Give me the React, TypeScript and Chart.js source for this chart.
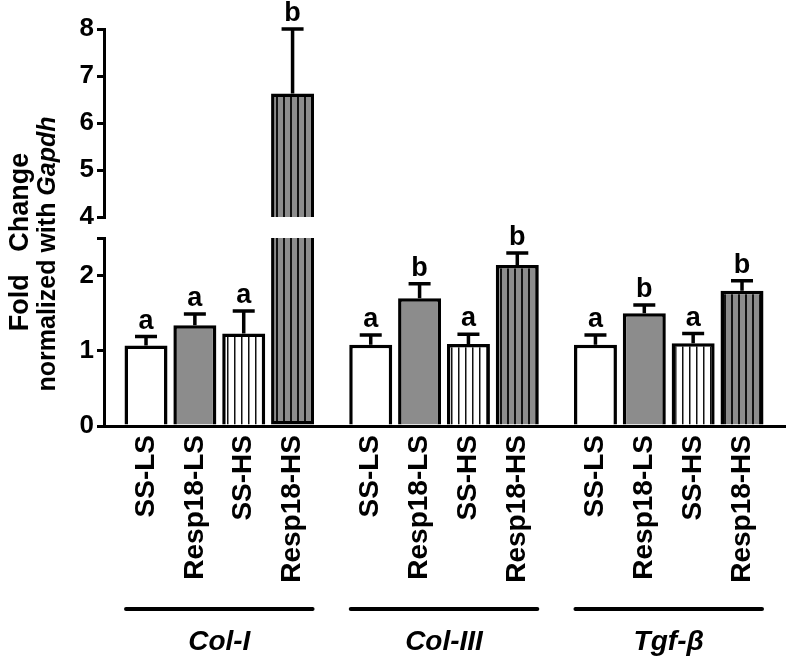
import React, { useEffect, useRef } from "react";
import { Chart, registerables } from "chart.js";
Chart.register(...registerables);

const FONT = '"Liberation Sans", Arial, Helvetica, sans-serif';

const groups = ["Col-I", "Col-III", "Tgf-β"];
const conditions = ["SS-LS", "Resp18-LS", "SS-HS", "Resp18-HS"];

const colIMeans = [1.07, 1.34, 1.23, 6.63];
const colIErr = [0.12, 0.15, 0.3, 1.37];
const colIIIMeans = [1.08, 1.7, 1.09, 2.14];
const colIIIErr = [0.13, 0.19, 0.13, 0.16];
const tgfMeans = [1.08, 1.5, 1.1, 1.8];
const tgfErr = [0.13, 0.11, 0.13, 0.13];

const colILetters = ["a", "a", "a", "b"];
const colIIILetters = ["a", "b", "a", "b"];
const tgfLetters = ["a", "b", "a", "b"];

const lowTicks = [0, 1, 2];
const lowRange = [0, 2.5];
const highTicks = [4, 5, 6, 7, 8];
const highRange = [4, 8];

const GROUP_STEP = 4.6;

function makePattern(bg: string, stripe: string, lineW: number) {
  const c = document.createElement("canvas");
  c.width = 7;
  c.height = 8;
  const g = c.getContext("2d")!;
  g.fillStyle = bg;
  g.fillRect(0, 0, 7, 8);
  g.fillStyle = stripe;
  g.fillRect(3, 0, lineW, 8);
  return g.createPattern(c, "repeat")!;
}

export default function App() {
  const ref = useRef<HTMLCanvasElement>(null);

  useEffect(() => {
    document.body.style.margin = "0";
    const canvas = ref.current!;
    Chart.defaults.font.family = FONT;

    const means = [...colIMeans, ...colIIIMeans, ...tgfMeans];
    const errs = [...colIErr, ...colIIIErr, ...tgfErr];
    const letters = [...colILetters, ...colIIILetters, ...tgfLetters];
    const positions: number[] = [];
    groups.forEach((_, g) => conditions.forEach((_, i) => positions.push(g * GROUP_STEP + i)));

    const grey = "#8c8c8c";
    const fills = [
      "#ffffff",
      grey,
      makePattern("#ffffff", "#111111", 1.5),
      makePattern(grey, "#111111", 2),
    ];
    const bg = positions.map((_, k) => fills[k % 4]);

    const lowMax = lowRange[1];
    const highMin = highRange[0];

    const lowData = positions.map((x, k) => ({ x, y: Math.min(means[k], lowMax) }));
    const highIdx = means.map((m, k) => (m > highMin ? k : -1)).filter((k) => k >= 0);
    const highData = highIdx.map((k) => ({ x: positions[k], y: [highMin, means[k]] }));

    const errorPlugin = {
      id: "errs",
      afterDatasetsDraw(chart: any) {
        const ctx = chart.ctx;
        const xs = chart.scales.x;
        const yl = chart.scales.yLow;
        const yh = chart.scales.yHigh;
        ctx.save();
        ctx.strokeStyle = "#000";
        ctx.fillStyle = "#000";
        ctx.lineWidth = 3.5;
        ctx.font = `bold 27px ${FONT}`;
        ctx.textAlign = "center";
        ctx.textBaseline = "alphabetic";
        means.forEach((m, k) => {
          const top = m + errs[k];
          const sc = top > lowMax ? yh : yl;
          const px = xs.getPixelForValue(positions[k]);
          const y0 = sc.getPixelForValue(m);
          const y1 = sc.getPixelForValue(top);
          ctx.beginPath();
          ctx.moveTo(px, y0);
          ctx.lineTo(px, y1);
          ctx.moveTo(px - 11, y1);
          ctx.lineTo(px + 11, y1);
          ctx.stroke();
          ctx.fillText(letters[k], px, y1 - 8);
        });
        ctx.restore();
      },
    };

    const decorPlugin = {
      id: "decor",
      afterDraw(chart: any) {
        const ctx = chart.ctx;
        const xs = chart.scales.x;
        ctx.save();
        ctx.fillStyle = "#000";
        ctx.strokeStyle = "#000";
        groups.forEach((name, g) => {
          const x1 = xs.getPixelForValue(g * GROUP_STEP) - 20;
          const x2 = xs.getPixelForValue(g * GROUP_STEP + 3) + 20;
          ctx.lineWidth = 4;
          ctx.lineCap = "round";
          ctx.beginPath();
          ctx.moveTo(x1, 609);
          ctx.lineTo(x2, 609);
          ctx.stroke();
          ctx.font = `italic bold 28px ${FONT}`;
          ctx.textAlign = "center";
          ctx.textBaseline = "alphabetic";
          ctx.fillText(name, (x1 + x2) / 2, 650);
        });
        ctx.save();
        ctx.translate(28, 242);
        ctx.rotate(-Math.PI / 2);
        ctx.font = `bold 27px ${FONT}`;
        ctx.textAlign = "center";
        ctx.textBaseline = "alphabetic";
        ctx.fillText("Fold   Change", 0, 0);
        ctx.restore();
        ctx.save();
        ctx.translate(55, 254);
        ctx.rotate(-Math.PI / 2);
        const p1 = "normalized with ";
        const p2 = "Gapdh";
        ctx.font = `bold 25px ${FONT}`;
        const w1 = ctx.measureText(p1).width;
        ctx.font = `italic bold 25px ${FONT}`;
        const w2 = ctx.measureText(p2).width;
        const x0 = -(w1 + w2) / 2;
        ctx.textAlign = "left";
        ctx.textBaseline = "alphabetic";
        ctx.font = `bold 25px ${FONT}`;
        ctx.fillText(p1, x0, 0);
        ctx.font = `italic bold 25px ${FONT}`;
        ctx.fillText(p2, x0 + w1, 0);
        ctx.restore();
        ctx.restore();
      },
    };

    const yCommon = (weight: number) => ({
      type: "linear" as const,
      position: "left" as const,
      stack: "yy",
      grid: {
        display: true,
        drawOnChartArea: false,
        drawTicks: true,
        tickLength: 7,
        lineWidth: 3,
        color: "#000",
      },
      border: { display: true, width: 3, color: "#000" },
      ticks: {
        color: "#000",
        font: { size: 26, weight: "bold" as const },
        padding: 3,
      },
      afterFit: (s: any) => {
        s.width = 104;
      },
      weight,
    });

    const chart = new Chart(canvas, {
      type: "bar",
      data: {
        datasets: [
          {
            data: lowData as any,
            yAxisID: "yLow",
            backgroundColor: bg as any,
            borderColor: "#000",
            borderWidth: 3.5,
            borderSkipped: ((c: any) => (means[c.dataIndex] > lowMax ? "end" : "start")) as any,
            grouped: false,
            categoryPercentage: 1,
            barPercentage: 0.88,
          },
          {
            data: highData as any,
            yAxisID: "yHigh",
            backgroundColor: highIdx.map((k) => fills[k % 4]) as any,
            borderColor: "#000",
            borderWidth: 3.5,
            borderSkipped: "start",
            grouped: false,
            categoryPercentage: 1,
            barPercentage: 0.88,
          },
        ],
      },
      options: {
        responsive: false,
        animation: false,
        layout: { padding: { top: 29, right: 15, left: 0, bottom: 0 } },
        plugins: {
          legend: { display: false },
          tooltip: { enabled: false },
          title: { display: false },
        },
        scales: {
          x: {
            type: "linear",
            position: "bottom",
            offset: false,
            min: -0.86,
            max: 13.08,
            grid: { display: true, drawOnChartArea: false, drawTicks: false },
            border: { display: true, width: 3, color: "#000" },
            afterBuildTicks: (s: any) => {
              s.ticks = positions.map((v) => ({ value: v }));
            },
            ticks: {
              autoSkip: false,
              maxRotation: 90,
              minRotation: 90,
              padding: 9,
              color: "#000",
              font: { size: 28, weight: "bold" },
              callback: (_v: any, i: number) => conditions[i % 4],
            },
            afterFit: (s: any) => {
              s.height = 234;
            },
          },
          yHigh: {
            ...yCommon(3),
            stackWeight: 188,
            min: highRange[0],
            max: highRange[1],
            afterBuildTicks: (s: any) => {
              s.ticks = highTicks.map((v) => ({ value: v }));
            },
          },
          yGap: {
            type: "linear",
            position: "left",
            stack: "yy",
            stackWeight: 21,
            weight: 2,
            min: 0,
            max: 1,
            grid: { display: false },
            border: { display: false },
            ticks: { display: false },
            afterFit: (s: any) => {
              s.width = 104;
            },
          },
          yLow: {
            ...yCommon(1),
            stackWeight: 188,
            min: lowRange[0],
            max: lowRange[1],
            afterBuildTicks: (s: any) => {
              s.ticks = [...lowTicks, lowRange[1]].map((v) => ({ value: v }));
            },
            ticks: {
              color: "#000",
              font: { size: 26, weight: "bold" },
              padding: 3,
              callback: (v: any) => (lowTicks.includes(v) ? String(v) : ""),
            },
          },
        } as any,
      },
      plugins: [errorPlugin, decorPlugin],
    });

    return () => chart.destroy();
  }, []);

  return (
    <div style={{ width: 800, height: 660 }}>
      <canvas ref={ref} width={800} height={660} style={{ display: "block", width: 800, height: 660 }} />
    </div>
  );
}
